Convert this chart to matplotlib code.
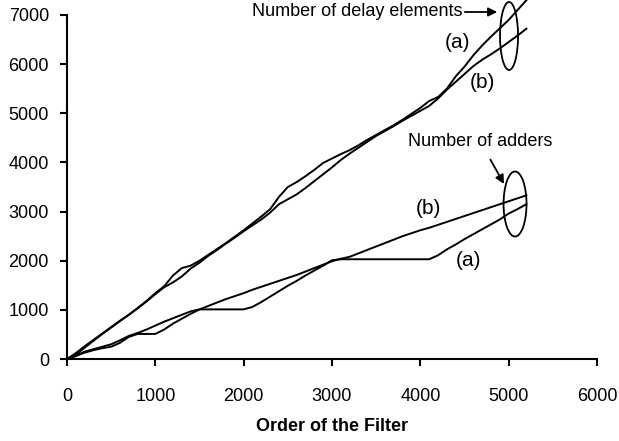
import numpy as np
import matplotlib
matplotlib.use("Agg")
import matplotlib.pyplot as plt
from matplotlib.patches import Ellipse

plt.rcParams['font.family'] = ['Liberation Sans', 'DejaVu Sans']

# filter order (x), sampled every 100
order = list(range(0, 5300, 100))

# number of delay elements
delay_a = [0, 120, 260, 390, 520, 650, 780, 900, 1040, 1180,
           1340, 1480, 1700, 1850, 1900, 2000, 2120, 2240, 2360, 2490,
           2620, 2760, 2900, 3050, 3300, 3500, 3600, 3720, 3850, 3990,
           4080, 4170, 4250, 4350, 4460, 4560, 4660, 4760, 4870, 4990,
           5110, 5250, 5330, 5500, 5750, 5950, 6180, 6380, 6560, 6730,
           6900, 7100, 7300]
delay_b = [0, 90, 230, 370, 510, 640, 770, 900, 1030, 1170,
           1320, 1460, 1560, 1680, 1840, 1960, 2100, 2220, 2350, 2470,
           2600, 2720, 2840, 2980, 3150, 3250, 3350, 3480, 3620, 3760,
           3900, 4050, 4180, 4300, 4420, 4540, 4640, 4740, 4850, 4950,
           5050, 5150, 5300, 5480, 5640, 5800, 5960, 6090, 6200, 6320,
           6450, 6580, 6720]

# number of adders
adders_a = [0, 60, 130, 180, 220, 250, 330, 450, 510, 510,
            510, 600, 720, 820, 920, 1010, 1010, 1010, 1010, 1010,
            1010, 1060, 1160, 1270, 1380, 1490, 1590, 1700, 1800, 1900,
            2010, 2030, 2030, 2030, 2030, 2030, 2030, 2030, 2030, 2030,
            2030, 2030, 2110, 2230, 2330, 2440, 2540, 2640, 2740, 2840,
            2960, 3050, 3150]
adders_b = [0, 70, 150, 200, 250, 300, 380, 470, 530, 600,
            680, 760, 830, 900, 970, 1010, 1080, 1150, 1220, 1280,
            1340, 1410, 1470, 1530, 1590, 1650, 1710, 1780, 1850, 1920,
            1990, 2040, 2080, 2150, 2220, 2290, 2360, 2430, 2500, 2560,
            2620, 2670, 2730, 2790, 2850, 2910, 2970, 3030, 3090, 3150,
            3210, 3270, 3330]

fig = plt.figure(figsize=(6.19, 4.41), dpi=100)
ax = fig.add_axes([0.1082, 0.1859, 0.8563, 0.7801])

for s in [delay_a, delay_b, adders_a, adders_b]:
    ax.plot(order, s, color='black', lw=1.4, clip_on=False)

ax.set_xlim(0, 6000)
ax.set_ylim(0, 7000)
ax.set_xticks(range(0, 7000, 1000))
ax.set_yticks(range(0, 8000, 1000))
ax.spines['top'].set_visible(False)
ax.spines['right'].set_visible(False)
for sp in ['left', 'bottom']:
    ax.spines[sp].set_linewidth(1.5)
ax.tick_params(axis='both', direction='out', length=5, width=1.5, labelsize=13)
ax.tick_params(axis='x', pad=16)
ax.tick_params(axis='y', pad=8)
ax.set_xlabel('Order of the Filter', fontsize=13, fontweight='bold', labelpad=9)

# annotations
ax.add_patch(Ellipse((5004, 6573), 204, 1384, fill=False, lw=1.3, clip_on=False))
ax.add_patch(Ellipse((5072, 3154), 260, 1323, fill=False, lw=1.3, clip_on=False))
ax.annotate('Number of delay elements', xy=(4870, 7061), xytext=(4472, 7061),
            ha='right', va='center', fontsize=13, annotation_clip=False,
            arrowprops=dict(arrowstyle='-|>', color='black', lw=1.3, shrinkA=0, shrinkB=0))
ax.annotate('Number of adders', xy=(4947, 3561), xytext=(4676, 4436),
            ha='center', va='center', fontsize=13, annotation_clip=False,
            arrowprops=dict(arrowstyle='-|>', color='black', lw=1.3, shrinkA=6, shrinkB=0))
ax.text(4420, 6450, '(a)', ha='center', va='center', fontsize=15)
ax.text(4700, 5620, '(b)', ha='center', va='center', fontsize=15)
ax.text(4090, 3060, '(b)', ha='center', va='center', fontsize=15)
ax.text(4540, 2010, '(a)', ha='center', va='center', fontsize=15)

fig.savefig('out.png', dpi=100)
